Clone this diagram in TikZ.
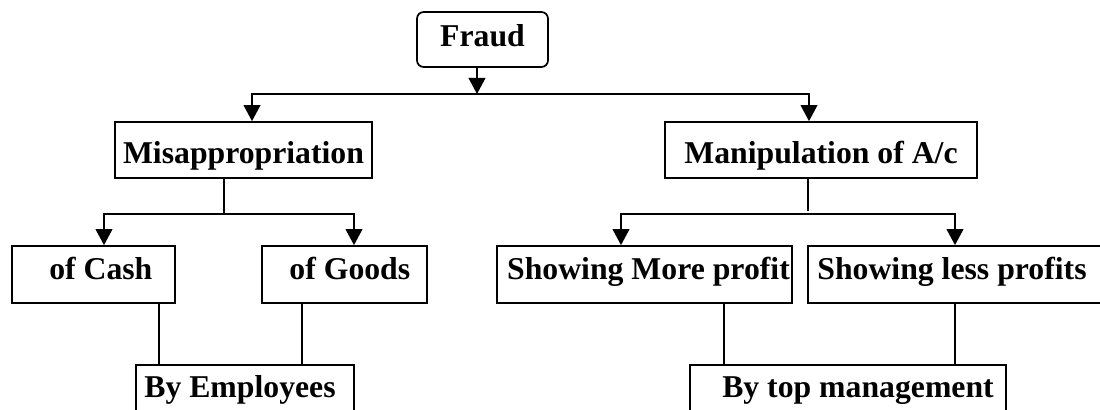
\documentclass[tikz,border=0pt]{standalone}
\usepackage{fontspec}
\setmainfont{Liberation Serif}
\usetikzlibrary{arrows.meta}
\begin{document}
\begin{tikzpicture}[x=0.75pt,y=-0.75pt,
  every node/.style={font=\fontsize{23.8pt}{28pt}\selectfont\bfseries, inner sep=0pt},
  boxx/.style 2 args={draw, line width=1.3pt, minimum width=#1*0.75pt, minimum height=#2*0.75pt},
  toptext/.style={text height=19.5pt, text depth=0pt},
  midtext/.style={text height=16.5pt, text depth=9pt},
  bottext/.style={text height=16.5pt, text depth=9.75pt},
  conn/.style={line width=1.3pt},
  arr/.style={line width=1.3pt, -{Triangle[width=12.5pt,length=12pt]}}]
\clip (0,0) rectangle (1100,410);
\fill[white] (0,0) rectangle (1100,410);

% nodes
\node[boxx={131}{55}, rounded corners=5pt, text height=16.5pt, text depth=5.25pt] (fraud) at (482.5,39.5) {Fraud};
\node[boxx={257}{56}, toptext] (mis) at (243.5,150) {Misappropriation};
\node[boxx={312}{56}, toptext] (manip) at (821,150) {Manipulation of A/c};
\node[boxx={163}{57}, midtext] (cash) at (93.5,274.5) {\hspace*{11pt}of Cash};
\node[boxx={165}{57}, midtext] (goods) at (344.5,274.5) {\hspace*{8pt}of Goods};
\node[boxx={295}{57}, midtext] (more) at (644.5,274.5) {\hspace*{6pt}Showing More profit};
\node[boxx={296}{57}, midtext] (less) at (956,274.5) {Showing less profits\hspace*{6pt}};
\node[boxx={218}{55}, bottext] (emp) at (245,392.5) {By Employees\hspace*{7.5pt}};
\node[boxx={316}{55}, bottext] (topm) at (848,392.5) {\hspace*{15pt}By top management};

% junction coordinates
\coordinate (j0) at (477,94);
\coordinate (tl) at (252,94);
\coordinate (tr) at (809,94);
\coordinate (mj) at (224,214);
\coordinate (ml) at (104,214);
\coordinate (mr) at (354,214);
\coordinate (nj) at (808,211);
\coordinate (nl) at (621,214);
\coordinate (nr) at (955,214);
\coordinate (c1) at (159,0);
\coordinate (c2) at (302,0);
\coordinate (c3) at (724,0);
\coordinate (c4) at (955,0);

% connectors
\draw[arr] (fraud.south -| j0) -- (j0);
\draw[arr] (tr) -- (tl) -- (tl |- mis.north);
\draw[arr] (tl) -- (tr) -- (tr |- manip.north);

\draw[conn] (mis.south -| mj) -- (mj);
\draw[arr] (mj) -- (ml) -- (ml |- cash.north);
\draw[arr] (mj) -- (mr) -- (mr |- goods.north);

\draw[conn] (manip.south -| nj) -- (nj);
\draw[arr] (nr) -- (nl) -- (nl |- more.north);
\draw[arr] (nl) -- (nr) -- (nr |- less.north);

\draw[conn] (cash.south -| c1) -- (emp.north -| c1);
\draw[conn] (goods.south -| c2) -- (emp.north -| c2);
\draw[conn] (more.south -| c3) -- (topm.north -| c3);
\draw[conn] (less.south -| c4) -- (topm.north -| c4);
\end{tikzpicture}
\end{document}
